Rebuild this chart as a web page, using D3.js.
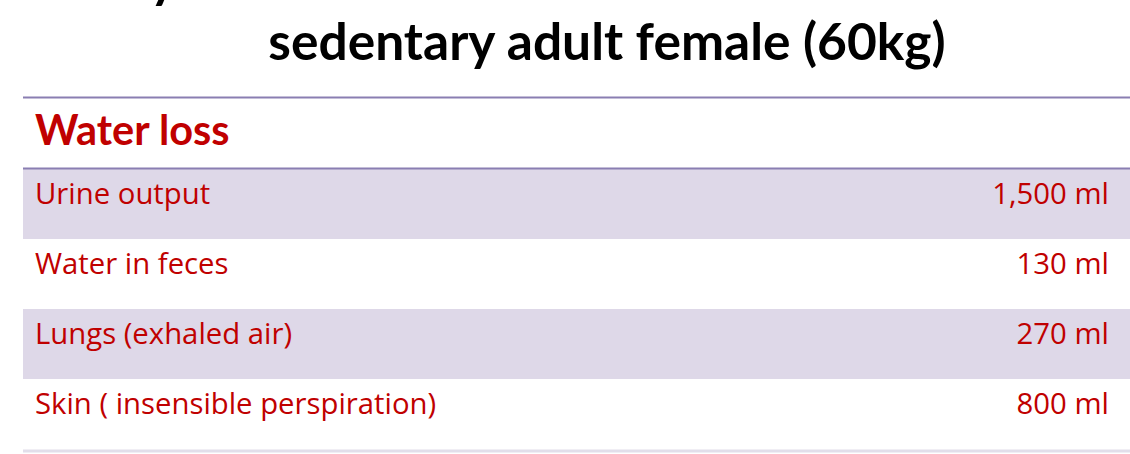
<!DOCTYPE html>
<html>
<head>
<meta charset="utf-8">
<script src="https://cdn.jsdelivr.net/npm/d3@7"></script>
<style>
  html, body { margin: 0; padding: 0; background: #fff; overflow: hidden; }
</style>
</head>
<body>
<div id="chart"></div>
<script>
// table data
const titleLines = ["Daily water loss in a", "sedentary adult female (60kg)"];
const header = "Water loss";
const sources = ["Urine output", "Water in feces", "Lungs (exhaled air)", "Skin ( insensible perspiration)"];
const amounts = [1500, 130, 270, 800];
const unit = "ml";

const width = 1130;
const height = 454;
const red = "#C00000";

const svg = d3.select("#chart").append("svg")
    .attr("width", width)
    .attr("height", height);

// title (first line sits above the visible area, only a descender shows)
svg.append("text")
    .attr("x", 60)
    .attr("y", -3)
    .attr("font-family", "Lato")
    .attr("font-weight", "bold")
    .attr("font-size", 51)
    .attr("fill", "#000")
    .text(titleLines[0]);

svg.append("text")
    .attr("x", 607)
    .attr("y", 60)
    .attr("text-anchor", "middle")
    .attr("font-family", "Lato")
    .attr("font-weight", "bold")
    .attr("font-size", 51.5)
    .attr("fill", "#000")
    .text(titleLines[1]);

const left = 23, right = width;

// rows
const y = d3.scaleBand()
    .domain(sources)
    .range([169, 449])
    .padding(0);

const fmt = d3.format(",");

const rows = svg.append("g")
    .selectAll("g")
    .data(sources)
    .join("g")
    .attr("transform", d => `translate(0,${y(d)})`);

rows.append("rect")
    .attr("x", left)
    .attr("width", right - left)
    .attr("height", y.bandwidth())
    .attr("fill", (d, i) => i % 2 === 0 ? "#DED8E8" : "#fff");

rows.append("text")
    .attr("x", 35)
    .attr("y", 35)
    .attr("font-family", "Open Sans")
    .attr("font-size", 29.3)
    .attr("fill", red)
    .text(d => d);

rows.append("text")
    .attr("x", 1109)
    .attr("y", 35)
    .attr("text-anchor", "end")
    .attr("font-family", "Open Sans")
    .attr("font-size", 29.3)
    .attr("fill", red)
    .text((d, i) => `${fmt(amounts[i])} ${unit}`);

// header
svg.append("text")
    .attr("x", 35)
    .attr("y", 145)
    .attr("font-family", "Lato")
    .attr("font-weight", "bold")
    .attr("font-size", 41.5)
    .attr("fill", red)
    .text(header);

// rules
svg.append("line")
    .attr("x1", left).attr("x2", right)
    .attr("y1", 97.5).attr("y2", 97.5)
    .attr("stroke", "#8A7EB2")
    .attr("stroke-width", 2);

svg.append("line")
    .attr("x1", left).attr("x2", right)
    .attr("y1", 168.5).attr("y2", 168.5)
    .attr("stroke", "#8A7EB2")
    .attr("stroke-width", 2);

svg.append("line")
    .attr("x1", left).attr("x2", right)
    .attr("y1", 451).attr("y2", 451)
    .attr("stroke", "#E2DEEA")
    .attr("stroke-width", 3);
</script>
</body>
</html>
